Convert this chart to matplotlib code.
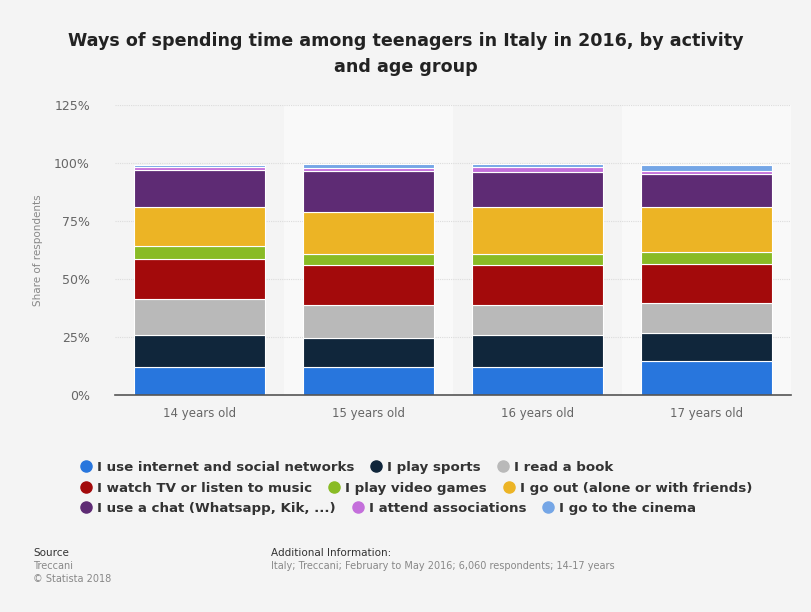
import matplotlib
matplotlib.use("Agg")
import matplotlib.pyplot as plt
from matplotlib.lines import Line2D
import numpy as np

AGE_GROUPS = ["14 years old", "15 years old", "16 years old", "17 years old"]

ACTIVITIES = [
    "I use internet and social networks",
    "I play sports",
    "I read a book",
    "I watch TV or listen to music",
    "I play video games",
    "I go out (alone or with friends)",
    "I use a chat (Whatsapp, Kik, ...)",
    "I attend associations",
    "I go to the cinema",
]

# shares in percent, one list per activity, ordered 14..17 years old
internet = [12.2, 12.2, 12.2, 14.7]
sports = [13.7, 12.5, 13.5, 12.0]
book = [15.6, 14.1, 13.1, 13.1]
tv_music = [17.1, 17.2, 17.2, 16.7]
video_games = [5.8, 4.6, 4.6, 5.1]
go_out = [16.8, 18.3, 20.6, 19.6]
chat = [15.8, 17.5, 15.1, 14.2]
associations = [1.2, 1.3, 1.9, 1.2]
cinema = [0.9, 1.9, 1.4, 2.5]

SERIES = [internet, sports, book, tv_music, video_games, go_out, chat,
          associations, cinema]

COLOURS = ["#2876dd", "#10263b", "#b9b9b9", "#a30a0b", "#89bb25",
           "#ecb425", "#5e2b74", "#c46fdb", "#75a6e6"]

Y_TICKS = [0, 25, 50, 75, 100, 125]

BG = "#f4f4f4"

fig = plt.figure(figsize=(8.11, 6.12), dpi=100, facecolor=BG)
ax = fig.add_axes([115 / 811, 1 - 395 / 612, 676 / 811, 290 / 612])
ax.set_facecolor(BG)

x = np.arange(len(AGE_GROUPS))
ax.set_xlim(-0.5, len(AGE_GROUPS) - 0.5)
ax.set_ylim(0, 125)

# lighter background band behind every second column
for i in x[1::2]:
    ax.axvspan(i - 0.5, i + 0.5, color="#f9f9f9", zorder=0, lw=0)

for t in Y_TICKS:
    ax.axhline(t, color="#dcdcdc", lw=0.8, ls=(0, (1, 1)), zorder=1)

bottom = np.zeros(len(AGE_GROUPS))
for vals, col, lbl in zip(SERIES, COLOURS, ACTIVITIES):
    ax.bar(x, vals, bottom=bottom, width=0.77, color=col, label=lbl,
           edgecolor="white", linewidth=0.8, zorder=2)
    bottom += np.array(vals)

for s in ["top", "right", "left"]:
    ax.spines[s].set_visible(False)
ax.spines["bottom"].set_color("#555555")
ax.spines["bottom"].set_linewidth(1.2)
ax.spines["bottom"].set_zorder(3)

ax.set_xticks(x)
ax.set_xticklabels(AGE_GROUPS, fontsize=8.5, color="#666666")
ax.set_yticks(Y_TICKS)
ax.set_yticklabels([f"{t}%" for t in Y_TICKS], fontsize=9, color="#666666")
ax.tick_params(axis="both", length=0)
ax.tick_params(axis="x", pad=9)
ax.tick_params(axis="y", pad=18)
ax.set_ylabel("Share of respondents", fontsize=7.5, color="#888888", labelpad=8)

fig.text(0.5, 1 - 54 / 612,
         "Ways of spending time among teenagers in Italy in 2016, by activity\nand age group",
         ha="center", va="center", fontsize=12.6, fontweight="bold",
         color="#222222", linespacing=1.6)

# legend laid out as a left-aligned flow, three entries per row
fig.canvas.draw()
renderer = fig.canvas.get_renderer()
row_y = [466, 487, 507]
for r in range(3):
    px = 86
    for k in range(3):
        idx = r * 3 + k
        fy = 1 - row_y[r] / 612
        fig.add_artist(Line2D([px / 811], [fy], marker="o", markersize=8,
                              color=COLOURS[idx], transform=fig.transFigure,
                              linestyle="none"))
        txt = fig.text((px + 11) / 811, fy, ACTIVITIES[idx], ha="left",
                       va="center_baseline", fontsize=9.6, fontweight="bold",
                       color="#333333")
        w = txt.get_window_extent(renderer).width
        px = px + 11 + w + 22

# footer
fig.text(33 / 811, 1 - 553 / 612, "Source", fontsize=7.5, color="#333333",
         va="center")
fig.text(33 / 811, 1 - 566 / 612, "Treccani", fontsize=7, color="#888888",
         va="center")
fig.text(33 / 811, 1 - 579 / 612, "\u00a9 Statista 2018", fontsize=7,
         color="#888888", va="center")
fig.text(271 / 811, 1 - 553 / 612, "Additional Information:", fontsize=7.5,
         color="#333333", va="center")
fig.text(271 / 811, 1 - 566 / 612,
         "Italy; Treccani; February to May 2016; 6,060 respondents; 14-17 years",
         fontsize=7, color="#888888", va="center")

fig.savefig("out.png", dpi=100, facecolor=BG)
